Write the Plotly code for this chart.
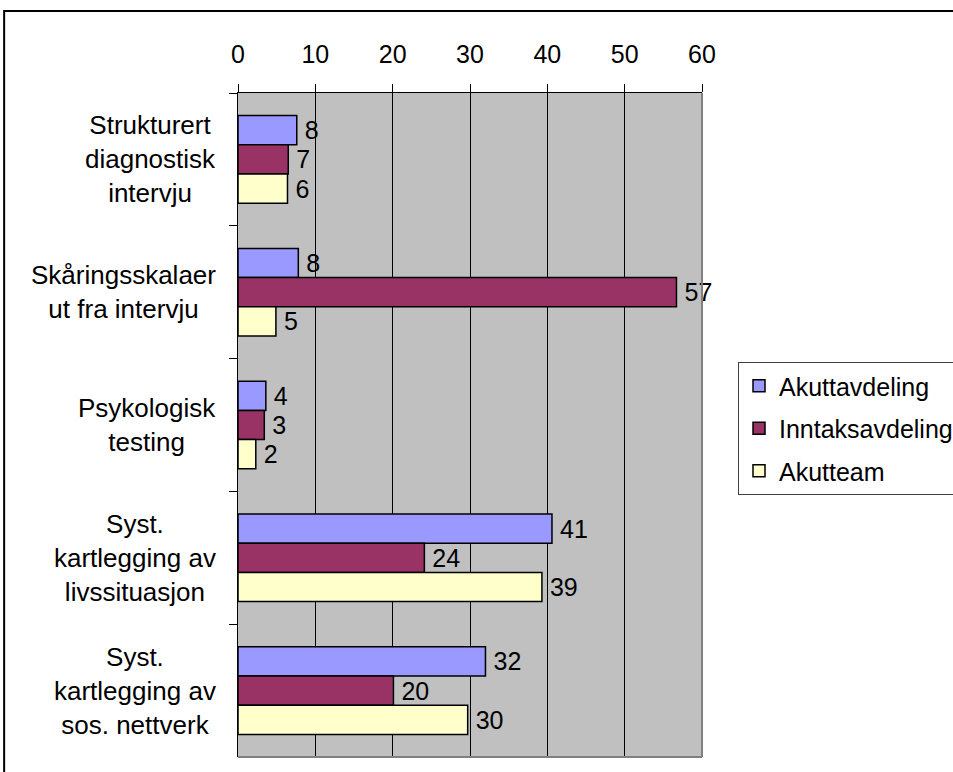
import plotly.graph_objects as go

# categories (top to bottom)
categories = ["Strukturert diagnostisk intervju", "Skåringsskalaer ut fra intervju",
              "Psykologisk testing", "Syst. kartlegging av livssituasjon",
              "Syst. kartlegging av sos. nettverk"]
cat_labels = ["Strukturert<br>diagnostisk<br>intervju", "Skåringsskalaer<br>ut fra intervju",
              "Psykologisk<br>testing", "Syst.<br>kartlegging av<br>livssituasjon",
              "Syst.<br>kartlegging av<br>sos. nettverk"]

series = ["Akuttavdeling", "Inntaksavdeling", "Akutteam"]
akuttavdeling = [7.6, 7.8, 3.6, 40.6, 32.0]
inntaksavdeling = [6.5, 56.7, 3.4, 24.1, 20.1]
akutteam = [6.4, 4.9, 2.3, 39.3, 29.7]
akuttavdeling_lbl = ["8", "8", "4", "41", "32"]
inntaksavdeling_lbl = ["7", "57", "3", "24", "20"]
akutteam_lbl = ["6", "5", "2", "39", "30"]

colors = ["#9999FF", "#993366", "#FFFFCC"]
x_ticks = [0, 10, 20, 30, 40, 50, 60]

FONT = "Liberation Sans, Arial, sans-serif"

fig = go.Figure()
for name, vals, lbls, col in zip(series,
                                 [akuttavdeling, inntaksavdeling, akutteam],
                                 [akuttavdeling_lbl, inntaksavdeling_lbl, akutteam_lbl],
                                 colors):
    fig.add_trace(go.Bar(y=categories, x=vals, name=name, orientation="h",
                         legendgroup=name,
                         marker=dict(color=col, line=dict(color="black", width=1.5)),
                         text=lbls, texttemplate="\u2009%{text}",
                         textposition="outside", constraintext="none",
                         cliponaxis=False,
                         textfont=dict(size=25, color="black", family=FONT)))

# category labels, lines centred inside a right-aligned block
for cat, lab in zip(categories, cat_labels):
    fig.add_annotation(x=0, xref="paper", y=cat, yref="y", text=lab, showarrow=False,
                       xanchor="right", xshift=-20, align="center",
                       font=dict(size=26, color="black", family=FONT))

# grey right/bottom border of the plot area
fig.add_shape(type="line", xref="paper", yref="paper", x0=1, x1=1, y0=0, y1=1,
              line=dict(color="#808080", width=2))
fig.add_shape(type="line", xref="paper", yref="paper", x0=0, x1=1, y0=0, y1=0,
              line=dict(color="#808080", width=2))
# outer chart frame
fig.add_shape(type="rect", xref="paper", yref="paper", x0=-0.504, x1=2, y0=-0.2, y1=1.1235,
              line=dict(color="black", width=2), layer="below")

fig.update_layout(
    width=953, height=772,
    margin=dict(l=238, r=251, t=93, b=15),
    paper_bgcolor="white", plot_bgcolor="#C0C0C0",
    barmode="group", bargap=0.34, bargroupgap=0,
    font=dict(family=FONT, size=25, color="black"),
    xaxis=dict(side="top", range=[0, 60], tickvals=x_ticks, ticks="outside", ticklen=8,
               tickcolor="black", showline=True, linecolor="black", linewidth=1,
               showgrid=True, gridcolor="#000000", gridwidth=1, zeroline=False,
               tickfont=dict(size=25), ticklabelstandoff=11),
    yaxis=dict(autorange="reversed", showticklabels=False, ticks="outside", ticklen=8,
               tickcolor="black", tickson="boundaries", showline=True, linecolor="black",
               linewidth=1, showgrid=False, zeroline=False),
    legend=dict(xref="container", yref="container", x=738 / 953, y=1 - 362 / 772,
                xanchor="left", yanchor="top", bgcolor="white",
                bordercolor="#404040", borderwidth=1, font=dict(size=25),
                traceorder="grouped", tracegroupgap=7),
    showlegend=True,
)

fig.write_html("out.html", config={"displayModeBar": False},
               post_script="document.body.style.margin='0';")
